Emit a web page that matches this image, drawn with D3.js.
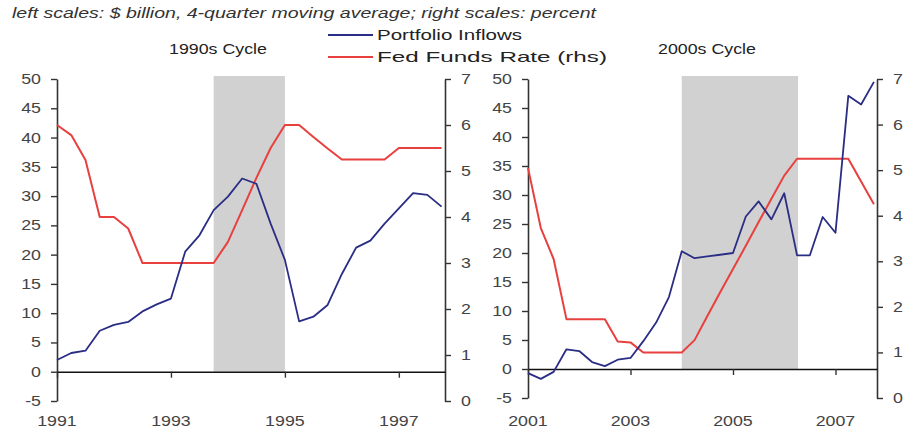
<!DOCTYPE html>
<html><head><meta charset="utf-8">
<script src="https://cdn.jsdelivr.net/npm/d3@7"></script>
<style>
body{margin:0;background:#fff}
text{font-family:"Liberation Sans",Arial,sans-serif}
</style></head><body>
<svg id="c" width="907" height="433"></svg>
<script>
// ---- data ----
const quarters90 = [1991.0,1991.25,1991.5,1991.75,1992.0,1992.25,1992.5,1992.75,1993.0,1993.25,1993.5,1993.75,1994.0,1994.25,1994.5,1994.75,1995.0,1995.25,1995.5,1995.75,1996.0,1996.25,1996.5,1996.75,1997.0,1997.25,1997.5,1997.75];
const inflows90 = [2.0,3.2,3.6,7.0,8.0,8.5,10.3,11.5,12.5,20.5,23.3,27.6,29.9,33.0,32.1,25.3,19.1,8.6,9.4,11.4,16.7,21.2,22.4,25.3,27.9,30.5,30.2,28.2];
const fedfunds90 = [6.0,5.78,5.24,4.0,4.0,3.75,3.0,3.0,3.0,3.0,3.0,3.0,3.46,4.15,4.85,5.5,6.0,6.0,5.74,5.49,5.25,5.25,5.25,5.25,5.5,5.5,5.5,5.5];

const quarters00 = [2001.0,2001.25,2001.5,2001.75,2002.0,2002.25,2002.5,2002.75,2003.0,2003.25,2003.5,2003.75,2004.0,2004.25,2004.5,2004.75,2005.0,2005.25,2005.5,2005.75,2006.0,2006.25,2006.5,2006.75,2007.0,2007.25,2007.5,2007.75];
const inflows00 = [-0.7,-1.7,-0.5,3.4,3.1,1.2,0.5,1.6,1.9,4.8,8.0,12.4,20.3,19.1,19.4,19.7,20.0,26.3,28.9,25.8,30.3,19.6,19.6,26.2,23.5,47.1,45.6,49.5];
const fedfunds00 = [5.05,3.73,3.05,1.73,1.73,1.73,1.73,1.24,1.22,1.0,1.0,1.0,1.0,1.27,1.8,2.32,2.83,3.34,3.86,4.37,4.88,5.25,5.25,5.25,5.25,5.25,4.75,4.25];

const leftTicks = [-5,0,5,10,15,20,25,30,35,40,45,50];
const rightTicks = [0,1,2,3,4,5,6,7];
const yearTicks90 = [1991,1993,1995,1997];
const yearTicks00 = [2001,2003,2005,2007];
const shade90 = [1993.75, 1995.0];
const shade00 = [2004.0, 2006.27];

const titleText = "left scales: $ billion, 4-quarter moving average; right scales: percent";
const seriesNames = ["Portfolio Inflows", "Fed Funds Rate (rhs)"];
const panelTitles = ["1990s Cycle", "2000s Cycle"];

// ---- style ----
const K = 1.27;
const BLUE = "#2a2d84", RED = "#e8403f", AXIS = "#333", LABEL = "#444";
const svg = d3.select("#c");
const fmt = d => String(d);

function stretch(sel, origin){
  sel.style("transform-box","fill-box").style("transform-origin",origin).style("transform",`scaleX(${K})`);
}

function panel(cfg){
  const x = d3.scaleLinear().domain(cfg.xDomain).range([cfg.left, cfg.right]);
  const yL = d3.scaleLinear().domain([-5,50]).range([cfg.bottom, cfg.top]);
  const yR = d3.scaleLinear().domain([0,7]).range([cfg.bottom, cfg.top]);
  const g = svg.append("g");
  const y0 = yL(0);

  g.append("rect")
    .attr("x", x(cfg.shade[0])).attr("y", cfg.top - 3)
    .attr("width", x(cfg.shade[1]) - x(cfg.shade[0]))
    .attr("height", y0 - cfg.top + 3)
    .attr("fill", "#d1d1d1");

  const ax = g.append("g").attr("transform", `translate(${cfg.left},0)`)
    .call(d3.axisLeft(yL).tickValues(leftTicks).tickFormat(fmt).tickSize(6).tickSizeOuter(0).tickPadding(10));
  const ar = g.append("g").attr("transform", `translate(${cfg.right},0)`)
    .call(d3.axisRight(yR).tickValues(rightTicks).tickFormat(fmt).tickSize(6).tickSizeOuter(0).tickPadding(10));
  const ab = g.append("g").attr("transform", `translate(0,${y0})`)
    .call(d3.axisBottom(x).tickValues(cfg.years).tickSize(6).tickSizeOuter(0).tickFormat(""));
  [ax, ar, ab].forEach(a => {
    a.selectAll("path").attr("stroke", AXIS).attr("stroke-width", 1.6);
    a.selectAll("line").attr("stroke", AXIS).attr("stroke-width", 1.4);
    a.selectAll("text").attr("fill", LABEL).style("font-size", "14px")
      .style("font-family", '"Liberation Sans",Arial,sans-serif');
  });
  ab.select(".domain").attr("stroke", "#111");
  stretch(ax.selectAll("text"), "right center");
  stretch(ar.selectAll("text"), "left center");

  g.selectAll("text.year").data(cfg.years).join("text").attr("class","year")
    .attr("x", d => x(d)).attr("y", 426).attr("text-anchor","middle")
    .attr("fill", LABEL).style("font-size","14px").text(d => d)
    .call(s => stretch(s, "center"));

  const lineL = d3.line().x((d,i) => x(cfg.q[i])).y(d => yL(d));
  const lineR = d3.line().x((d,i) => x(cfg.q[i])).y(d => yR(d));
  g.append("path").datum(cfg.rate).attr("d", lineR).attr("fill","none")
    .attr("stroke", RED).attr("stroke-width", 2).attr("stroke-linejoin","round");
  g.append("path").datum(cfg.flow).attr("d", lineL).attr("fill","none")
    .attr("stroke", BLUE).attr("stroke-width", 1.8).attr("stroke-linejoin","round");

  g.append("text").attr("x", cfg.titleX).attr("y", 54).attr("text-anchor","middle")
    .attr("fill","#222").style("font-size","14px").text(cfg.title)
    .call(s => stretch(s, "center"));
}

panel({left:57, right:445, top:79, bottom:401, xDomain:[1991,1997.81], q:quarters90,
  flow:inflows90, rate:fedfunds90, years:yearTicks90, shade:shade90, title:panelTitles[0], titleX:218});
panel({left:528, right:877, top:79, bottom:398, xDomain:[2001,2007.81], q:quarters00,
  flow:inflows00, rate:fedfunds00, years:yearTicks00, shade:shade00, title:panelTitles[1], titleX:707});

// title
svg.append("text").attr("x", 12).attr("y", 18).attr("fill","#333")
  .style("font-size","15px").style("font-style","italic")
  .attr("textLength", 584).attr("lengthAdjust","spacingAndGlyphs").text(titleText);

// legend
const leg = svg.append("g");
[[BLUE, 35, 145], [RED, 57, 230]].forEach((c, i) => {
  leg.append("line").attr("x1", 328).attr("x2", 373).attr("y1", c[1]).attr("y2", c[1])
    .attr("stroke", c[0]).attr("stroke-width", 2);
  leg.append("text").attr("x", 377).attr("y", c[1] + 5).attr("fill","#222")
    .style("font-size","15px").attr("textLength", c[2]).attr("lengthAdjust","spacingAndGlyphs")
    .text(seriesNames[i]);
});
</script>
</body></html>
